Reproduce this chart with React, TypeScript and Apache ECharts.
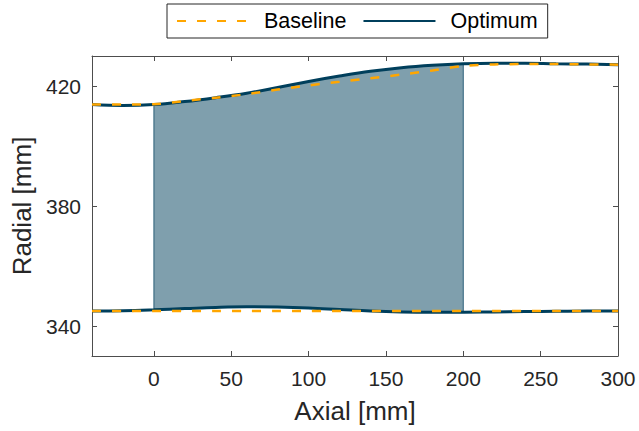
import React, { useEffect, useRef } from "react";
import * as echarts from "echarts";

const xs = [-40, -20, 0, 20, 40, 60, 80, 100, 120, 140, 160, 180, 200, 220, 240, 260, 280, 300];
const optimumUpper = [413.8, 413.5, 413.8, 414.8, 416.1, 417.6, 419.5, 421.5, 423.3, 424.9, 426.1, 426.9, 427.4, 427.6, 427.6, 427.4, 427.3, 427.1];
const baselineUpper = [413.8, 413.8, 413.9, 415.0, 416.1, 417.3, 418.8, 420.2, 421.4, 422.6, 423.8, 425.2, 426.7, 427.2, 427.3, 427.3, 427.2, 427.1];
const optimumLower = [345.0, 345.1, 345.4, 345.8, 346.2, 346.4, 346.3, 346.0, 345.5, 345.0, 344.7, 344.6, 344.6, 344.7, 344.8, 344.9, 345.0, 345.0];
const baselineLower = [345.0, 345.0, 345.0, 345.0, 345.0, 345.0, 345.0, 345.0, 345.0, 345.0, 345.0, 345.0, 345.0, 345.0, 345.0, 345.0, 345.0, 345.0];
const xTicks = [0, 50, 100, 150, 200, 250, 300];
const yTicks = [340, 380, 420];
const fillStart = 0;
const fillEnd = 200;

const NAVY = "#003f5c";
const ORANGE = "#ffa600";
const TEXT = "#262626";
const FONT = "'Liberation Sans', Arial, Helvetica, sans-serif";

const pair = (ys: number[]) => xs.map((x, i) => [x, ys[i]]);

export default function App() {
  const ref = useRef<HTMLDivElement>(null);
  useEffect(() => {
    if (!ref.current) return;
    const chart = echarts.init(ref.current, undefined, { renderer: "svg" });
    const idx = xs.map((x, i) => i).filter((i) => xs[i] >= fillStart && xs[i] <= fillEnd);
    const fillPts = [
      ...idx.map((i) => [xs[i], optimumUpper[i]]),
      ...idx.slice().reverse().map((i) => [xs[i], optimumLower[i]]),
    ];
    const axisLine = { show: true, onZero: false, lineStyle: { color: "#4d4d4d", width: 1 } };
    const tick = (vals: number[]) => ({ show: true, inside: true, length: 5, customValues: vals, lineStyle: { color: "#4d4d4d", width: 1 } });
    chart.setOption({
      animation: false,
      backgroundColor: "#fff",
      textStyle: { fontFamily: FONT },
      grid: { left: 92, top: 56, right: 21, bottom: 75, containLabel: false },
      legend: {
        left: 167,
        top: 4,
        data: ["Baseline", "Optimum"],
        itemWidth: 72,
        itemHeight: 14,
        itemGap: 16,
        padding: [6, 10, 6, 9],
        borderColor: TEXT,
        borderWidth: 1,
        itemStyle: { opacity: 0 },
        textStyle: { fontSize: 21.5, color: "#000", fontFamily: FONT, padding: [0, 0, 0, 10] },
      },
      xAxis: [
        {
          type: "value", min: -40, max: 300, position: "bottom",
          axisLine, axisTick: tick(xTicks), splitLine: { show: false },
          axisLabel: { customValues: xTicks, fontSize: 21, color: TEXT, margin: 12, fontFamily: FONT },
          name: "Axial [mm]", nameLocation: "middle", nameGap: 42,
          nameTextStyle: { fontSize: 26, color: TEXT, fontFamily: FONT },
        },
        {
          type: "value", min: -40, max: 300, position: "top",
          axisLine, axisTick: tick(xTicks), splitLine: { show: false }, axisLabel: { show: false },
        },
      ],
      yAxis: [
        {
          type: "value", min: 330, max: 430, position: "left",
          axisLine, axisTick: tick(yTicks), splitLine: { show: false },
          axisLabel: { customValues: yTicks, fontSize: 21, color: TEXT, margin: 11, fontFamily: FONT },
          name: "Radial [mm]", nameLocation: "middle", nameGap: 49,
          nameTextStyle: { fontSize: 26, color: TEXT, fontFamily: FONT },
        },
        {
          type: "value", min: 330, max: 430, position: "right",
          axisLine, axisTick: tick(yTicks), splitLine: { show: false }, axisLabel: { show: false },
        },
      ],
      series: [
        {
          type: "custom",
          name: "fill",
          data: fillPts,
          encode: { x: 0, y: 1 },
          silent: true,
          renderItem: (params: any, api: any) => {
            if (params.dataIndex !== 0) return null;
            const points = fillPts.map((p) => api.coord(p));
            return {
              type: "polygon",
              shape: { points },
              style: { fill: "rgba(0,63,92,0.5)", stroke: "rgba(0,63,92,0.75)", lineWidth: 1 },
            };
          },
        },
        {
          type: "line", name: "Optimum", data: pair(optimumUpper), smooth: 0.4, symbol: "none",
          lineStyle: { color: NAVY, width: 3 }, itemStyle: { color: NAVY },
        },
        {
          type: "line", name: "Optimum", data: pair(optimumLower), smooth: 0.4, symbol: "none",
          lineStyle: { color: NAVY, width: 3 }, itemStyle: { color: NAVY },
        },
        {
          type: "line", name: "Baseline", data: pair(baselineUpper), smooth: 0.3, symbol: "none",
          lineStyle: { color: ORANGE, width: 2.5, type: [9, 11] }, itemStyle: { color: ORANGE },
        },
        {
          type: "line", name: "Baseline", data: pair(baselineLower), smooth: 0.3, symbol: "none",
          lineStyle: { color: ORANGE, width: 2.5, type: [9, 11] }, itemStyle: { color: ORANGE },
        },
      ],
    });
    return () => chart.dispose();
  }, []);
  return <div ref={ref} style={{ width: 639, height: 431, position: "absolute", left: 0, top: 0 }} />;
}
